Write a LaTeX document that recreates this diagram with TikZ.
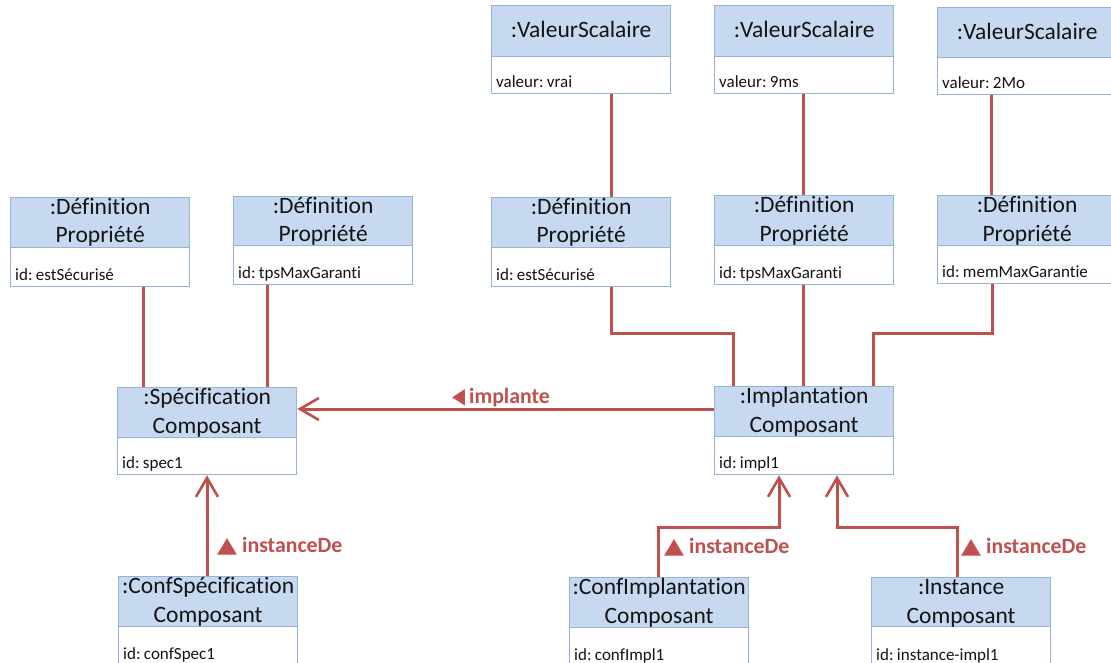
\documentclass[tikz,border=0pt]{standalone}
\usepackage{fontspec}
\setmainfont{Carlito}[Ligatures={NoCommon}]
\newfontfamily\attrfont{Carlito}[Ligatures={NoCommon},WordSpace=0.55]
\newfontfamily\symfont{DejaVu Sans}
\usetikzlibrary{arrows.meta,calc}
\definecolor{hdrfill}{RGB}{198,217,241}
\definecolor{boxline}{RGB}{149,179,215}
\definecolor{umlred}{RGB}{192,80,77}
\definecolor{txt}{RGB}{20,20,20}

\tikzset{
  hdr/.style={draw=boxline, line width=1.3pt, fill=hdrfill, inner sep=0pt, anchor=north west, minimum width=179pt},
  attr/.style={draw=boxline, line width=1.3pt, fill=white, inner sep=0pt, anchor=north west, minimum width=179pt},
  htext/.style={font=\fontsize{23.5}{28}\selectfont, text=txt, inner sep=0pt, anchor=base},
  atext/.style={font=\attrfont\fontsize{17}{20}\selectfont, text=txt, anchor=base west, inner sep=0pt},
  assoc/.style={draw=umlred, line width=3pt},
  openarrow/.style={assoc, -{Straight Barb[length=19pt,width=22pt,line width=2.6pt]}},
  lbl/.style={text=umlred, font=\fontsize{21.8}{24}\selectfont\bfseries, inner sep=0pt, anchor=base west},
}

% name, left x, top y, split y, bottom y, line1, line2, attribute
\newcommand\umlobjtwo[8]{%
  \node[hdr, minimum height={#4-#3}] (#1h) at (#2,#3) {};
  \node[attr, minimum height={#5-#4}] (#1) at (#2,#4) {};
  \node[htext] (#1la) at ($(#1h.north)+(0,17.5)$) {#6};
  \node[htext] (#1lb) at ($(#1h.north)+(0,46)$) {#7};
  \node[atext] (#1t) at ($(#1.south west)+(5,-6.5)$) {#8};
}
% name, left x, top y, split y, bottom y, line, attribute
\newcommand\umlobjone[7]{%
  \node[hdr, minimum height={#4-#3}] (#1h) at (#2,#3) {};
  \node[attr, minimum height={#5-#4}] (#1) at (#2,#4) {};
  \node[htext] (#1la) at ($(#1h.north)+(0,33)$) {#6};
  \node[atext] (#1t) at ($(#1.south west)+(5,-6.5)$) {#7};
}
\newcommand\uptri{\resizebox{20pt}{14pt}{\symfont ▲}}
\newcommand\lefttri{\resizebox{13pt}{14pt}{\symfont ◀}}

\begin{document}
\begin{tikzpicture}[x=1pt,y=-1pt]
\clip (0,0) rectangle (1111,663);
\fill[white] (0,0) rectangle (1111,663);

% top row
\umlobjone{vs1}{491}{5}{56}{93}{:ValeurScalaire}{valeur: vrai}
\umlobjone{vs2}{714}{5}{56}{93}{:ValeurScalaire}{valeur: 9ms}
\umlobjone{vs3}{937}{7}{57}{94}{:ValeurScalaire}{valeur: 2Mo}

% definitions
\umlobjtwo{d1}{10}{197}{247}{286}{:Définition}{Propriété}{id: estSécurisé}
\umlobjtwo{d2}{233}{196}{245}{284}{:Définition}{Propriété}{id: tpsMaxGaranti}
\umlobjtwo{d3}{491}{197}{247}{286}{:Définition}{Propriété}{id: estSécurisé}
\umlobjtwo{d4}{714}{195}{245}{284}{:Définition}{Propriété}{id: tpsMaxGaranti}
\umlobjtwo{d5}{937}{195}{245}{283}{:Définition}{Propriété}{id: memMaxGarantie}

% middle row
\umlobjtwo{spec}{117}{387}{437}{474}{:Spécification}{Composant}{id: spec1}
\umlobjtwo{impl}{714}{386}{436}{474}{:Implantation}{Composant}{id: impl1}

% bottom row
\umlobjtwo{cs}{118}{576}{626}{665}{:ConfSpécification}{Composant}{id: confSpec1}
\umlobjtwo{ci}{569}{577}{627}{666}{:ConfImplantation}{Composant}{id: confImpl1}
\umlobjtwo{inst}{871}{577}{626}{666}{:Instance}{Composant}{id: instance-impl1}

% associations
\draw[assoc] (vs1.south -| 611,0) -- (d3h.north -| 611,0);
\draw[assoc] (vs2.south -| 803,0) -- (d4h.north -| 803,0);
\draw[assoc] (vs3.south -| 991,0) -- (d5h.north -| 991,0);
\draw[assoc] (d1.south -| 143,0) -- (spech.north -| 143,0);
\draw[assoc] (d2.south -| 267,0) -- (spech.north -| 267,0);
\draw[assoc] (d3.south -| 611,0) |- (733,333) -- (implh.north -| 733,0);
\draw[assoc] (d4.south -| 803,0) -- (implh.north -| 803,0);
\draw[assoc] (d5.south -| 992,0) |- (873,333) -- (implh.north -| 873,0);

% implante
\draw[openarrow] (implh.west |- 0,409) -- (spech.east |- 0,409);
\node[lbl] (limpl) at (452,403) {\lefttri\hspace{4pt}implante};

% instanceDe
\draw[openarrow] (csh.north -| 207,0) -- (spec.south -| 207,0);
\node[lbl] (lcs) at (217,552) {\uptri\hspace{5pt}instanceDe};
\draw[openarrow] (cih.north -| 658,0) |- (779,527) -- (impl.south -| 779,0);
\node[lbl] (lci) at (664,553) {\uptri\hspace{5pt}instanceDe};
\draw[openarrow] (insth.north -| 957,0) |- (837,527) -- (impl.south -| 837,0);
\node[lbl] (linst) at (961,553) {\uptri\hspace{5pt}instanceDe};
\end{tikzpicture}
\end{document}
